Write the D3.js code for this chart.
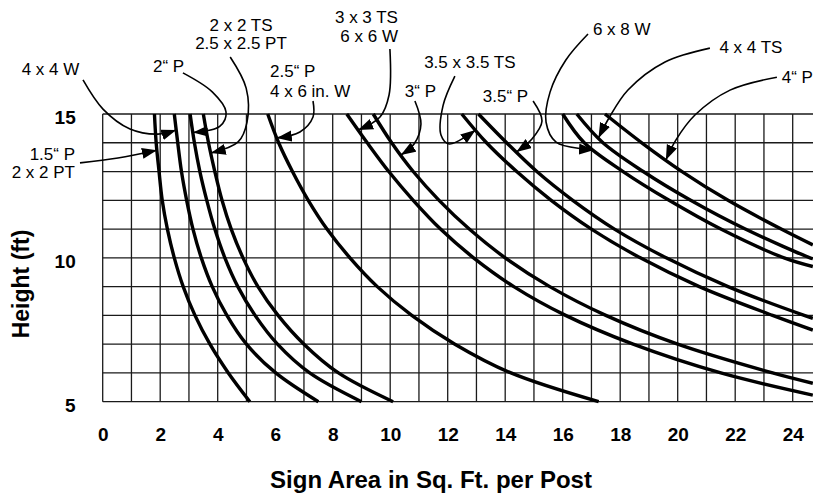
<!DOCTYPE html>
<html><head><meta charset="utf-8">
<script src="https://cdn.jsdelivr.net/npm/d3@7"></script>
<style>
body{margin:0;background:#fff}
svg{display:block}
text{font-family:"Liberation Sans",Arial,Helvetica,sans-serif;fill:#000}
</style>
</head><body>
<svg id="chart" width="813" height="496"></svg>
<script>
// ---------- DATA (sign area in sq ft per post, height in ft) ----------
const areaTicks   = [0,2,4,6,8,10,12,14,16,18,20,22,24];
const heightTicks = [5,10,15];

// each curve: [area, height] points
const p15_pt2   = [[1.80,15],[1.86,14],[1.96,13],[2.07,12],[2.25,11],[2.49,10],[2.80,9],[3.21,8],[3.73,7],[4.37,6],[5.12,5]];
const w4x4      = [[2.49,15],[2.61,14],[2.74,13],[2.92,12],[3.14,11],[3.43,10],[3.81,9],[4.32,8],[5.00,7],[6.02,6],[7.50,5]];
const p2        = [[3.04,15],[3.19,14],[3.38,13],[3.62,12],[3.90,11],[4.25,10],[4.70,9],[5.30,8],[6.08,7],[7.20,6],[9.00,5]];
const ts2_pt25  = [[3.50,15],[3.68,14],[3.90,13],[4.15,12],[4.47,11],[4.88,10],[5.40,9],[6.10,8],[7.00,7],[8.20,6],[10.10,5]];
const p25_w4x6  = [[5.74,15],[6.12,14],[6.60,13],[7.15,12],[7.80,11],[8.60,10],[9.55,9],[10.75,8],[12.25,7],[14.20,6],[17.25,5]];
const ts3_w6x6  = [[8.49,15],[9.20,14],[9.95,13],[10.80,12],[11.75,11],[12.90,10],[14.30,9],[16.10,8],[18.45,7],[21.50,6],[24.70,5.23]];
const p3        = [[9.41,15],[10.05,14],[10.80,13],[11.70,12],[12.75,11],[14.00,10],[15.55,9],[17.50,8],[20.00,7],[23.30,6],[24.70,5.64]];
const ts35      = [[12.49,15],[13.35,14],[14.40,13],[15.60,12],[17.00,11],[18.70,10],[20.75,9],[23.30,8],[24.70,7.49]];
const p35       = [[13.07,15],[14.05,14],[15.10,13],[16.35,12],[17.80,11],[19.60,10],[21.75,9],[24.40,8],[24.70,7.90]];
const w6x8      = [[16.00,15],[16.75,14],[18.10,13],[19.70,12],[21.50,11],[23.70,10],[24.70,9.70]];
const ts4       = [[16.49,15],[17.40,14],[18.80,13],[20.45,12],[22.35,11],[24.60,10],[24.70,9.97]];
const p4        = [[17.47,15],[18.75,14],[20.15,13],[21.75,12],[23.60,11],[24.70,10.45]];

const curves = [p15_pt2, w4x4, p2, ts2_pt25, p25_w4x6, ts3_w6x6, p3, ts35, p35, w6x8, ts4, p4];

// ---------- ANNOTATIONS (data units: [area, height]) ----------
const annotations = [
  {lines:["1.5\u201C P","2 x 2 PT"], anchor:"end",    at:[-0.963,13.40], lead:18,
   path:[[-0.79,13.30],[0.53,13.47]], target:p15_pt2, tipH:13.74},
  {lines:["4 x 4 W"], anchor:"start", at:[-2.82,16.357], lead:0,
   path:[[-0.685,16.183],[0.01,15.17],[0.95,14.478],[1.92,14.30]], target:w4x4, tipH:14.443},
  {lines:["2\u201C P"], anchor:"start", at:[1.75,16.46], lead:0,
   path:[[2.79,16.43],[3.81,15.77],[4.29,15.07],[4.08,14.58]], target:p2, tipH:14.357},
  {lines:["2 x 2 TS","2.5 x 2.5 PT"], anchor:"middle", at:[4.81,17.90], lead:18.3,
   path:[[4.435,16.983],[4.99,15.90],[5.02,14.72],[4.71,14.03]], target:ts2_pt25, tipH:13.643},
  {lines:["2.5\u201C P","4 x 6 in. W"], anchor:"start", at:[5.82,16.287], lead:19.7,
   path:[[7.315,15.452],[7.315,14.896],[6.86,14.374]], target:p25_w4x6, tipH:14.17},
  {lines:["3 x 3 TS","6 x 6 W"], anchor:"end", at:[10.27,18.155], lead:18.4,
   path:[[9.99,17.26],[9.96,15.66],[9.645,14.896]], target:ts3_w6x6, tipH:14.443},
  {lines:["3\u201C P"], anchor:"start", at:[10.51,15.60], lead:0,
   path:[[10.86,15.452],[11.07,14.652],[10.83,13.957]], target:p3, tipH:13.574},
  {lines:["3.5 x 3.5 TS"], anchor:"start", at:[11.18,16.59], lead:0,
   path:[[12.25,16.32],[11.84,15.30],[11.77,14.26],[12.05,13.957]], target:ts35, tipH:14.443},
  {lines:["3.5\u201C P"], anchor:"start", at:[13.22,15.428], lead:0,
   path:[[14.97,15.452],[15.28,14.757],[14.93,14.13]], target:p35, tipH:13.678},
  {lines:["6 x 8 W"], anchor:"start", at:[17.05,17.74], lead:0,
   path:[[16.88,17.78],[16.11,16.877],[15.56,15.76],[15.42,14.722],[15.77,14.026]], target:w6x8, tipH:13.748},
  {lines:["4 x 4 TS"], anchor:"start", at:[21.45,17.12], lead:0,
   path:[[21.12,17.29],[19.56,16.809],[18.27,15.835],[17.61,14.861]], target:ts4, tipH:14.17},
  {lines:["4\u201C P"], anchor:"start", at:[23.62,16.07], lead:0,
   path:[[23.45,16.28],[21.82,15.83],[20.6,14.965],[19.94,14.10]], target:p4, tipH:13.40}
];

// ---------- DRAW ----------
const W = 813, Hh = 496;
const svg = d3.select("#chart");
const x = d3.scaleLinear().domain([0, 24]).range([102.7, 792.7]);
const y = d3.scaleLinear().domain([5, 15]).range([401.7, 114]);
const areaMax = x.invert(W);

// grid
const grid = svg.append("g").attr("stroke", "#1a1a1a").attr("stroke-width", 1.3);
grid.selectAll("line.v").data(d3.range(0, 25)).join("line")
  .attr("x1", d => x(d)).attr("x2", d => x(d))
  .attr("y1", y(15)).attr("y2", y(5));
grid.selectAll("line.h").data(d3.range(5, 16)).join("line")
  .attr("x1", x(0)).attr("x2", x(areaMax))
  .attr("y1", d => y(d)).attr("y2", d => y(d));

// axes (labels only)
const xAxis = svg.append("g").attr("transform", `translate(0,${y(5)})`)
  .call(d3.axisBottom(x).tickValues(areaTicks).tickSize(0).tickPadding(26));
const yAxis = svg.append("g").attr("transform", `translate(${x(0)},0)`)
  .call(d3.axisLeft(y).tickValues(heightTicks).tickSize(0).tickPadding(27));
[xAxis, yAxis].forEach(g => {
  g.select(".domain").remove();
  g.selectAll("text").attr("font-family", '"Liberation Sans",Arial,sans-serif')
    .attr("font-size", 19).attr("font-weight", "bold").attr("fill", "#000");
});
yAxis.selectAll("text").attr("dy", "0.5em");

// curves
const line = d3.line().x(d => x(d[0])).y(d => y(d[1])).curve(d3.curveCatmullRom.alpha(0.5));
svg.append("g").selectAll("path").data(curves).join("path")
  .attr("d", line).attr("fill", "none").attr("stroke", "#000")
  .attr("stroke-width", 3.4).attr("stroke-linecap", "butt");

// arrow marker
svg.append("defs").append("marker")
  .attr("id", "ah").attr("markerUnits", "userSpaceOnUse")
  .attr("markerWidth", 16).attr("markerHeight", 12)
  .attr("refX", 15).attr("refY", 5.5).attr("orient", "auto")
  .append("path").attr("d", "M0,0 L15,5.5 L0,11 Z").attr("fill", "#000");

function areaAt(pts, h) {
  for (let i = 0; i < pts.length - 1; i++) {
    const a = pts[i], b = pts[i + 1];
    if ((h <= a[1] && h >= b[1])) {
      const t = (a[1] - h) / (a[1] - b[1]);
      return a[0] + t * (b[0] - a[0]);
    }
  }
  return pts[0][0];
}

const aLine = d3.line().x(d => x(d[0])).y(d => y(d[1])).curve(d3.curveCatmullRom.alpha(0.5));
const ann = svg.append("g");
annotations.forEach(a => {
  const tip = [areaAt(a.target, a.tipH), a.tipH];
  ann.append("path").attr("d", aLine([...a.path, tip]))
    .attr("fill", "none").attr("stroke", "#000").attr("stroke-width", 1.6)
    .attr("marker-end", "url(#ah)");
  const t = ann.append("text").attr("text-anchor", a.anchor)
    .attr("font-size", 17).attr("x", x(a.at[0])).attr("y", y(a.at[1]));
  a.lines.forEach((s, i) => {
    t.append("tspan").attr("x", x(a.at[0])).attr("dy", i === 0 ? 0 : a.lead).text(s);
  });
});

// titles
svg.append("text").attr("x", 431).attr("y", 488).attr("text-anchor", "middle")
  .attr("font-size", 24).attr("font-weight", "bold").text("Sign Area in Sq. Ft. per Post");
svg.append("text").attr("transform", "translate(29,284) rotate(-90)").attr("text-anchor", "middle")
  .attr("font-size", 23).attr("font-weight", "bold").text("Height (ft)");
</script>
</body></html>
